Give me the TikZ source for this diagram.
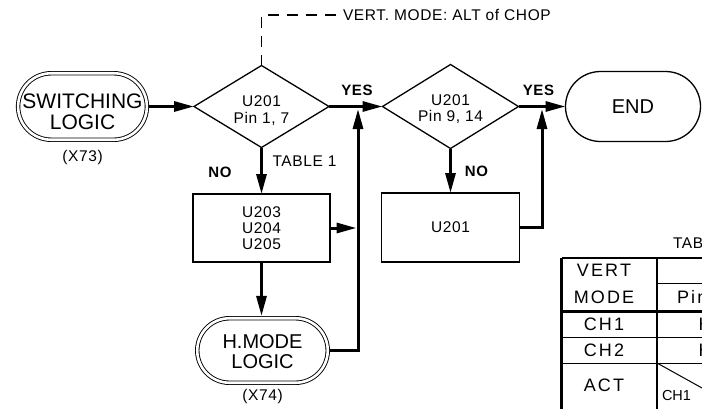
\documentclass[tikz,border=0pt]{standalone}
\usepackage{fontspec}
\setmainfont{Liberation Sans}
\newfontfamily\spacedf[LetterSpace=4]{Liberation Sans}
\newfontfamily\tablef[LetterSpace=12]{Liberation Sans}
\usetikzlibrary{arrows.meta,shapes.geometric,shapes.misc}
\begin{document}
\begin{tikzpicture}[x=1pt,y=-1pt,
  every node/.style={inner sep=0pt, outer sep=0pt},
  smalltxt/.style={font=\spacedf\fontsize{15.5}{16.2}\selectfont, align=center},
  boldtxt/.style={font=\spacedf\bfseries\fontsize{15}{16}\selectfont},
  bigtxt/.style={font=\fontsize{21}{21}\selectfont, align=center},
  midtxt/.style={font=\fontsize{20}{20}\selectfont, align=center},
  tabtxt/.style={font=\tablef\fontsize{18}{18}\selectfont},
  tabsmall/.style={font=\fontsize{14.5}{16}\selectfont},
  dstadium/.style={rounded rectangle, draw, double, line width=0.9pt, double distance=2.6pt},
  stadium/.style={rounded rectangle, draw, line width=1.3pt},
  decision/.style={diamond, draw, line width=1.3pt},
  procbox/.style={rectangle, draw, line width=1.2pt},
  flow/.style={line width=3pt, -{Triangle[length=20pt,width=10pt]}},
  guide/.style={line width=1.2pt, dash pattern=on 11pt off 8pt},
  thickrule/.style={line width=2.6pt},
  midrule/.style={line width=2pt},
  thinrule/.style={line width=1pt},
  ]
\useasboundingbox (0,0) rectangle (702,408);
\clip (0,0) rectangle (702,408);

% ---- main nodes
\node[dstadium, minimum width=128.8pt, minimum height=66.5pt,
      label={[bigtxt, yshift=-5.5pt]center:SWITCHING\\LOGIC}] (sw) at (82.5,106.5) {};
\node[smalltxt] (x73) at (82.5,157) {(X73)};

\node[decision, minimum width=135pt, minimum height=82pt,
      label={[smalltxt, yshift=-4pt]center:U201\\Pin 1, 7}] (d1) at (261.5,106.5) {};

\node[decision, minimum width=136pt, minimum height=84pt,
      label={[smalltxt, yshift=-2.5pt]center:U201\\Pin 9, 14}] (d2) at (450.5,106.5) {};

\node[stadium, minimum width=135pt, minimum height=70pt, font=\fontsize{20}{20}\selectfont] (endn) at (633,106.5) {END};

\node[procbox, minimum width=137pt, minimum height=68pt, smalltxt] (b1) at (261.5,228) {U203\\U204\\U205};

\node[procbox, minimum width=138pt, minimum height=69pt, smalltxt] (b2) at (450.5,227.5) {U201};

\node[dstadium, minimum width=130.5pt, minimum height=64.5pt,
      label={[midtxt, yshift=-1.5pt]center:H.MODE\\LOGIC}] (hm) at (262.5,350.5) {};
\node[smalltxt] (x74) at (262.5,396) {(X74)};

% ---- labels
\node[boldtxt] (yes1) at (357,90) {YES};
\node[boldtxt] (yes2) at (538.5,90) {YES};
\node[boldtxt] (no1) at (220,172.5) {NO};
\node[boldtxt] (no2) at (476.5,171.5) {NO};
\node[smalltxt] (tab1) at (304.5,161) {TABLE 1};
\node[smalltxt, anchor=west] (vm) at (343,15) {VERT. MODE: ALT of CHOP};

% ---- junction points
\coordinate (j1) at (358,109);
\coordinate (j2) at (542,109);

% ---- connectors
\draw[guide] (d1.north) |- ([xshift=-7pt]vm.west);
\draw[flow, shorten <=2.3pt] (sw.east) -- (d1.west);
\draw[flow] (d1.east) -- (d2.west);
\draw[flow] (d2.east) -- (endn.west);
\draw[flow] (d1.south) -- (d1.south |- b1.north);
\draw[flow] (d2.south) -- (d2.south |- b2.north);
\draw[flow, shorten >=2.3pt] (b1.south) -- (b1.south |- hm.north);
\draw[flow, shorten >=1.5pt] (b1.east) -- (b1.east -| j1);
\draw[flow, shorten <=2.3pt] (hm.east) -| (j1);
\draw[flow] (b2.east) -| (j2);

% ---- table (cut by the picture edge, as in the reference)
\draw[thickrule] (561.5,258) -- (760,258);
\draw[thickrule] (561.5,258) -- (561.5,450);
\draw[midrule] (657,258) -- (657,450);
\draw[thickrule] (561.5,311.5) -- (760,311.5);
\draw[thinrule] (657,283) -- (760,283);
\draw[thinrule] (561.5,337) -- (760,337);
\draw[thinrule] (561.5,363) -- (760,363);
\draw[thinrule] (657,363) -- (747,413);

\node[smalltxt, anchor=west] (tabt) at (673,243) {TAB};
\node[tabtxt] (tv) at (604,270) {VERT};
\node[tabtxt] (tm) at (604,297) {MODE};
\node[tabtxt] (tc1) at (604,324) {CH1};
\node[tabtxt] (tc2) at (604,350) {CH2};
\node[tabtxt] (ta) at (604,385) {ACT};
\node[tabtxt, anchor=west] (tp) at (677,297) {Pin};
\node[tabtxt, anchor=west] (th1) at (698.5,324) {H};
\node[tabtxt, anchor=west] (th2) at (698.5,350) {H};
\node[tabsmall, anchor=west] (tac) at (662,396) {CH1};
\end{tikzpicture}
\end{document}
